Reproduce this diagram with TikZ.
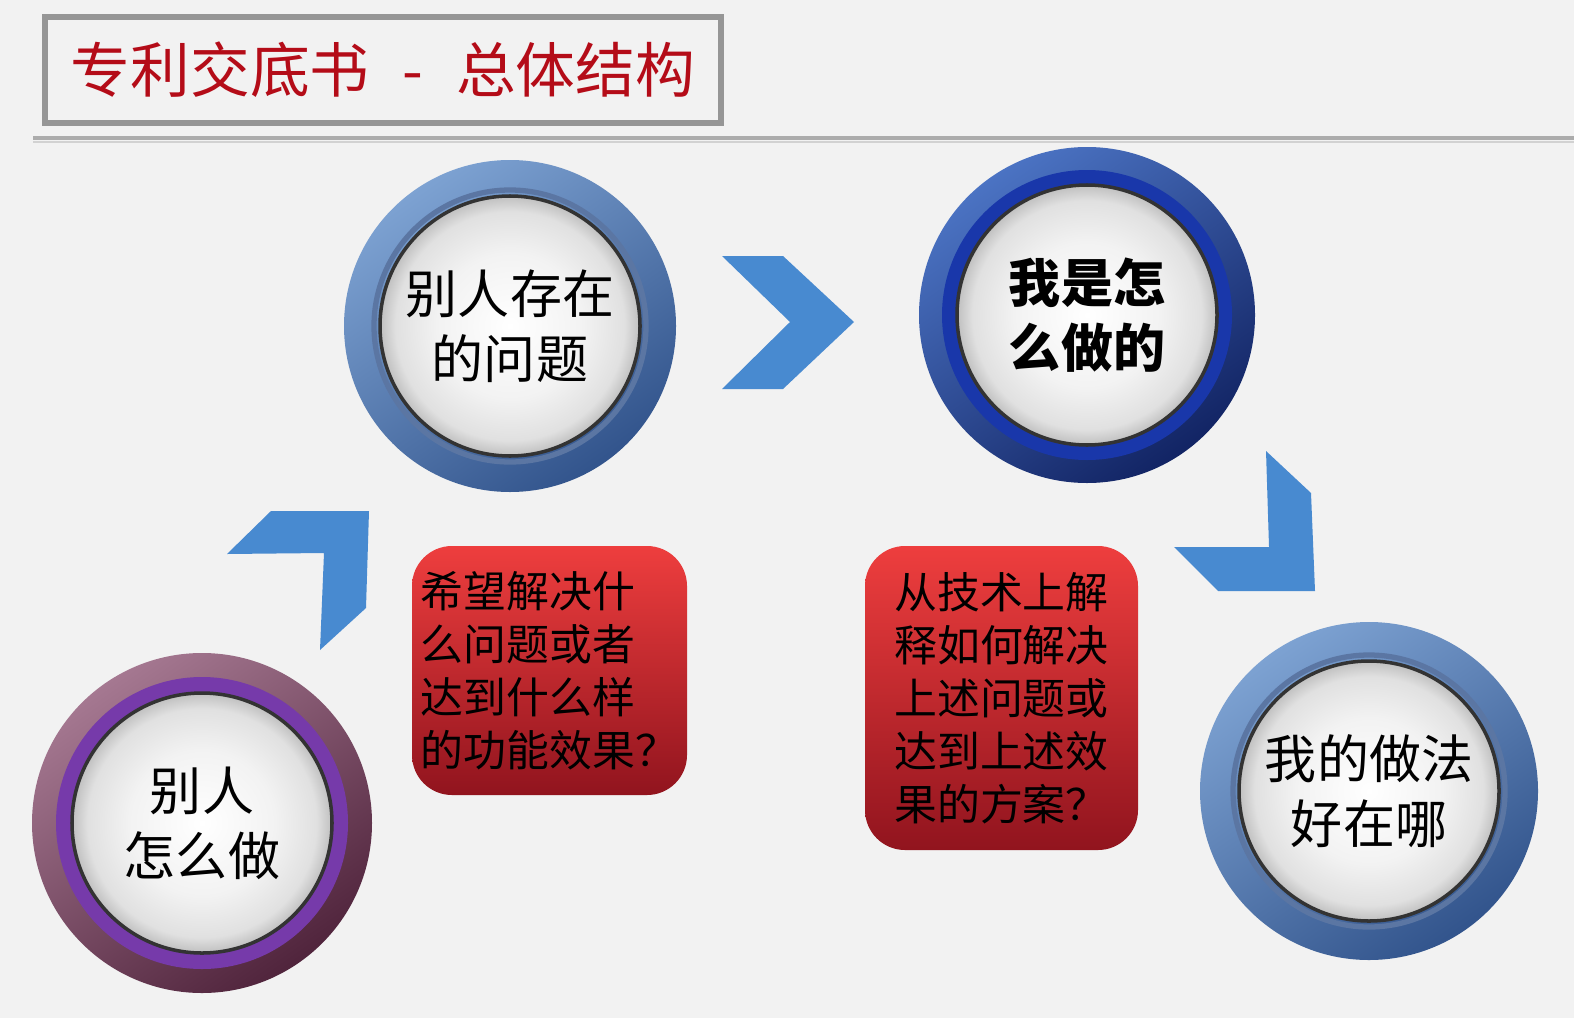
\documentclass[tikz,border=0pt]{standalone}
\usepackage{fontspec}
\setmainfont{Noto Sans CJK SC}
\usepackage{xcolor}
\usepackage{tikz}
\usetikzlibrary{positioning, calc}
\definecolor{zlbg}{RGB}{242,242,242}
\definecolor{zlred}{RGB}{180,12,24}
\definecolor{zlframe}{RGB}{150,150,150}
\definecolor{zlarrow}{RGB}{72,138,208}
\definecolor{zlbluelt}{RGB}{125,162,210}
\definecolor{zlbluedk}{RGB}{50,84,140}
\definecolor{zlnavylt}{RGB}{75,115,195}
\definecolor{zlnavydk}{RGB}{18,36,100}
\definecolor{zlnavy}{RGB}{25,55,170}
\definecolor{zlplumlt}{RGB}{165,120,145}
\definecolor{zlplumdk}{RGB}{80,36,60}
\definecolor{zlpurple}{RGB}{118,58,170}
\definecolor{zlboxtop}{RGB}{238,62,62}
\definecolor{zlboxbot}{RGB}{145,20,30}
\pgfdeclareradialshading{zldisc}{\pgfpoint{0bp}{0bp}}{color(0bp)=(white); color(14bp)=(gray!10); color(22bp)=(gray!24); color(25bp)=(gray!50); color(50bp)=(gray!50)}

\begin{document}
\begin{tikzpicture}[x=1cm, y=1cm,
  disc/.style={circle, minimum size=2.6cm, inner sep=0pt, draw=black!80,
    line width=1pt, shade, shading=zldisc, align=center,
    font=\fontsize{14.8}{18.5}\selectfont},
  ringblue/.style={top color=zlbluelt, bottom color=zlbluedk, shading angle=35},
  ringnavy/.style={top color=zlnavylt, bottom color=zlnavydk, shading angle=35},
  ringplum/.style={top color=zlplumlt, bottom color=zlplumdk, shading angle=35},
  redbox/.style={rounded corners=0.4cm, top color=zlboxtop, bottom color=zlboxbot,
    inner sep=0pt, align=left, font=\fontsize{12.2}{15.1}\selectfont},
  chev/.style={fill=zlarrow}]
% background
\fill[zlbg] (0,0) rectangle (15.74,10.18);
\useasboundingbox (0,0) rectangle (15.74,10.18);

% title
\node[draw=zlframe, line width=1.5pt, minimum width=6.76cm, minimum height=1.06cm,
  text=zlred, font=\fontsize{17}{20}\selectfont] (title) at (3.83,9.48)
  {专利交底书\hspace{0.55em}-\hspace{0.55em}总体结构};
\draw[gray!65, line width=1.2pt] (0.33,8.80) -- (15.74,8.80);
\draw[gray!35, line width=0.6pt] (0.33,8.76) -- (15.74,8.76);

% ---- circles ----
\coordinate (p1) at (5.10,6.92);
\coordinate (p2) at (10.87,7.03);
\coordinate (p3) at (2.02,1.95);
\coordinate (p4) at (13.69,2.27);

\shade[ringblue] (p1) circle (1.66);
\draw[zlbluedk!80, line width=1.5pt] (p1) circle (1.36);
\node[disc] (c1) at (p1) {别人存在\\的问题};

\shade[ringnavy] (p2) circle (1.68);
\fill[zlnavy] (p2) circle (1.45);
\node[disc, font=\fontsize{14.8}{18.5}\selectfont\bfseries] (c2) at (p2) {我是怎\\么做的};

\shade[ringplum] (p3) circle (1.70);
\fill[zlpurple] (p3) circle (1.46);
\node[disc] (c3) at (p3) {别人\\怎么做};

\shade[ringblue] (p4) circle (1.69);
\draw[zlbluedk!80, line width=1.5pt] (p4) circle (1.36);
\node[disc] (c4) at (p4) {我的做法\\好在哪};

% ---- chevrons ----
\fill[chev] (2.27,4.64) -- (2.71,5.07) -- (3.69,5.07) -- (3.66,4.10)
  -- (3.20,3.68) -- (3.24,4.65) -- cycle;
\fill[chev] (7.22,7.62) -- (7.83,7.62) -- (8.54,6.96) -- (7.83,6.29)
  -- (7.22,6.29) -- (7.90,6.96) -- cycle;
\fill[chev] (12.66,5.67) -- (13.11,5.25) -- (13.15,4.27) -- (12.18,4.27)
  -- (11.74,4.71) -- (12.69,4.71) -- cycle;

% ---- red boxes ----
\node[redbox, minimum width=2.75cm, minimum height=2.49cm] (why) at (5.495,3.475)
  {希望解决什\\么问题或者\\达到什么样\\的功能效果？};
\node[redbox, minimum width=2.73cm, minimum height=3.04cm] (how) at (10.015,3.20)
  {从技术上解\\释如何解决\\上述问题或\\达到上述效\\果的方案？};
\end{tikzpicture}
\end{document}
